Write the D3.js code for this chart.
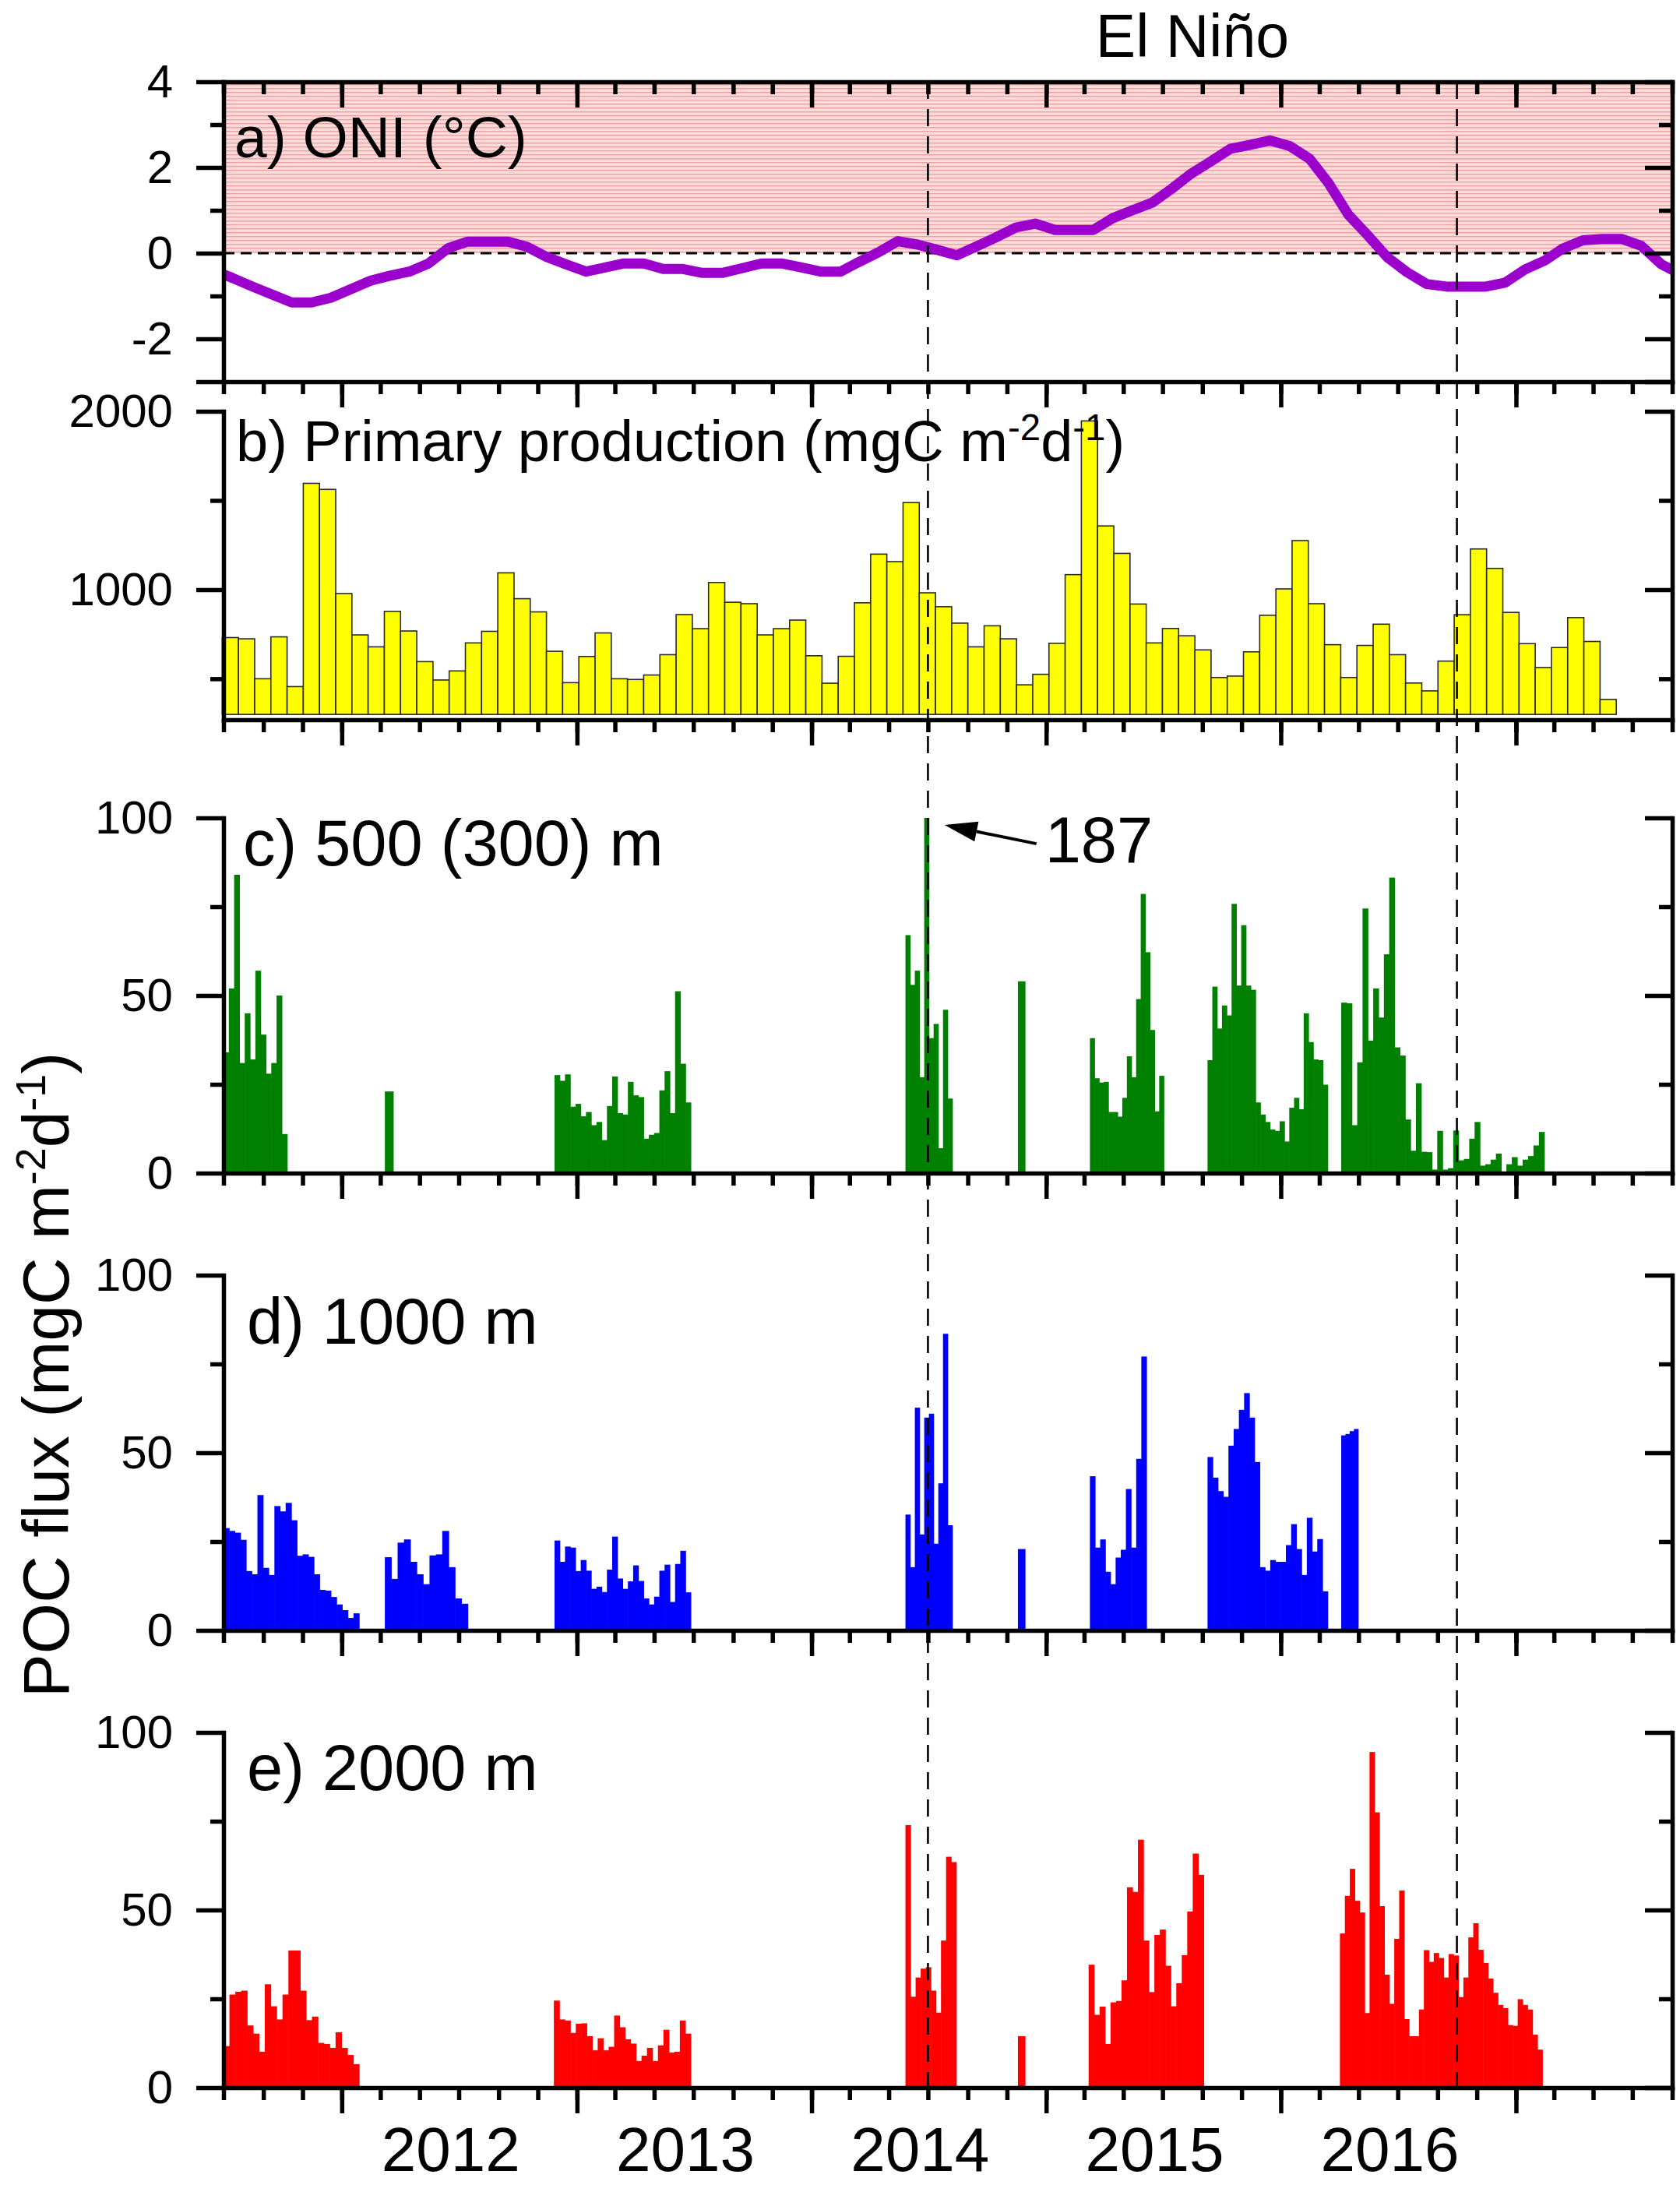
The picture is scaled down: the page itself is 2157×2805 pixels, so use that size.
<!DOCTYPE html>
<html>
<head>
<meta charset="utf-8">
<script src="https://cdn.jsdelivr.net/npm/d3@7"></script>
<style>
  body { margin: 0; background: #fff; }
  text { font-family: "Liberation Sans", Arial, sans-serif; fill: #000; }
</style>
</head>
<body>
<script>
// ---- data ----
// ONI, monthly values plotted at mid-month, Jun 2011 .. Sep 2017
const oniFirstMonth = "2011-06-15";
const oniValues = [
  -0.40, -0.58, -0.78, -0.97, -1.15, -1.15, -1.04,
  -0.84, -0.64, -0.53, -0.43, -0.24, 0.12, 0.27, 0.27, 0.27, 0.15, -0.09, -0.26,
  -0.43, -0.33, -0.24, -0.24, -0.37, -0.37, -0.46, -0.46, -0.35, -0.24, -0.24, -0.33,
  -0.43, -0.43, -0.21, 0.02, 0.28, 0.20, 0.08, -0.05, 0.16, 0.37, 0.60, 0.69,
  0.54, 0.54, 0.54, 0.82, 1.00, 1.18, 1.50, 1.86, 2.15, 2.44, 2.53, 2.63,
  2.50, 2.20, 1.64, 0.90, 0.42, -0.10, -0.44, -0.72, -0.78, -0.78, -0.78, -0.69,
  -0.38, -0.17, 0.11, 0.30, 0.33, 0.33, 0.17, -0.26, -0.50
];

// primary production, consecutive composites between these dates
const ppStart = "2011-06-29", ppEnd = "2017-06-06";
const ppValues = [
  731, 724, 500, 735, 456, 1596, 1562, 978, 746, 679,
  878, 768, 596, 493, 544, 701, 766, 1094, 949, 875,
  654, 478, 625, 757, 500, 496, 521, 635, 860, 781,
  1040, 929, 921, 746, 781, 829, 629, 475, 626, 926,
  1199, 1157, 1488, 982, 904, 812, 679, 797, 724, 466,
  525, 699, 1084, 1946, 1357, 1203, 919, 701, 782, 741,
  662, 507, 515, 651, 856, 1004, 1275, 921, 691, 507,
  687, 806, 635, 476, 432, 599, 859, 1228, 1119, 872,
  697, 563, 675, 843, 709, 384
];
const ppBase = 300;

// sediment trap deployments: cups evenly split between start and end
const flux500 = [
  {start: "2011-07-01", end: "2011-10-08", values: [34, 52, 84, 31, 45, 32, 57, 39, 28, 31, 50, 11]},
  {start: "2012-03-08", end: "2012-03-21", values: [23]},
  {start: "2012-11-27", end: "2013-06-27", values: [27.6, 26, 27.8, 18.7, 19.5, 16, 17.2, 13.5, 14.4, 9.3, 18.9, 27.2, 16.9, 16.5, 25.7, 21.9, 21.4, 9.7, 10.8, 11.3, 23.3, 28.7, 16.9, 51.2, 30.8, 19.9]},
  {start: "2014-05-27", end: "2014-08-08", values: [67, 53, 57, 27, 187, 38, 42, 7, 46, 21]},
  {start: "2014-11-18", end: "2014-11-29", values: [54]},
  {start: "2015-03-10", end: "2015-07-03", values: [38, 26.7, 25.5, 25.7, 17.2, 17.2, 15.9, 21.2, 32.9, 27, 49, 78.6, 62.2, 40.3, 17.4, 27.4]},
  {start: "2015-09-09", end: "2016-03-14", values: [31.8, 52.5, 40.7, 47.2, 44.4, 75.8, 52.8, 69.8, 52.8, 51.6, 19.9, 16.5, 14.4, 12.3, 11.9, 14.6, 8.9, 18.4, 21.2, 18, 45, 36.9, 32, 31.8, 24.9]},
  {start: "2016-04-04", end: "2016-12-09", values: [48, 47.8, 13.5, 31.2, 74.5, 37.3, 52, 43.8, 61.6, 83.2, 35.4, 33.1, 15.1, 6.3, 25.3, 6, 5.9, 1, 11.9, 1, 1.4, 12, 3.6, 4, 9.7, 14.4, 2.1, 2.5, 3.8, 5.5]},
  {start: "2016-12-17", end: "2017-02-14", values: [2.5, 4.5, 2.1, 3.8, 4.8, 7.8, 11.6]}
];
const flux1000 = [
  {start: "2011-07-01", end: "2012-01-28", values: [28.8, 28, 27.5, 25.5, 16.7, 15.8, 38.1, 17.6, 15.6, 35, 33.5, 35.9, 31, 21, 21.4, 20.7, 15.8, 11.4, 11.2, 9.4, 7.3, 5.7, 3.5, 4.8]},
  {start: "2012-03-08", end: "2012-07-15", values: [20.6, 14.5, 24.7, 25.6, 19.3, 15.8, 13, 21.1, 21.4, 28, 17.8, 9, 7.5]},
  {start: "2012-11-27", end: "2013-06-27", values: [25.3, 19.3, 23.6, 23.3, 16.7, 19.8, 16.8, 11.7, 12.3, 10.8, 17.1, 26.4, 14.6, 11.7, 13.8, 18.3, 13.9, 9, 7.3, 9.5, 16.8, 18.5, 8, 18.7, 22.4, 10.7]},
  {start: "2014-05-27", end: "2014-08-08", values: [32.6, 17.8, 62.7, 27, 59.9, 61, 24.4, 41.4, 83.5, 29.6]},
  {start: "2014-11-18", end: "2014-11-29", values: [22.9]},
  {start: "2015-03-10", end: "2015-06-06", values: [43.4, 23.3, 25.6, 16.5, 13, 20.5, 22.7, 39.8, 23.3, 48.3, 77.1]},
  {start: "2015-09-09", end: "2016-03-14", values: [48.8, 43, 39.2, 37.6, 52, 56.7, 62.1, 66.8, 59.9, 47.4, 17.8, 16.8, 19.8, 19.3, 19.3, 24, 29.9, 22.9, 15.6, 31.7, 22.2, 25.7, 11]},
  {start: "2016-04-04", end: "2016-05-07", values: [54.9, 55.3, 56.1, 56.7, 0.4]}
];
const flux2000 = [
  {start: "2011-07-01", end: "2012-01-28", values: [11.7, 26.2, 27, 27.3, 17.5, 15.2, 10.1, 29.1, 22.9, 19.2, 26.2, 38.6, 38.6, 27.3, 19, 20, 12.6, 12.3, 11.2, 15.6, 11.2, 9.2, 6.6]},
  {start: "2012-11-26", end: "2013-06-27", values: [24.5, 19.2, 18.9, 15.4, 18, 18.1, 14.5, 10.5, 13.9, 10.5, 11.5, 20.3, 17, 13.6, 12.4, 7.5, 9, 11.2, 7.5, 11.9, 16.3, 9.9, 10.1, 18.9, 15.2]},
  {start: "2014-05-27", end: "2014-08-14", values: [73.9, 25.6, 31, 33.5, 33.9, 27.3, 21.1, 41.4, 65, 63.5]},
  {start: "2014-11-18", end: "2014-11-29", values: [14.5]},
  {start: "2015-03-08", end: "2015-09-03", values: [34.6, 20.5, 22.8, 12.3, 24, 24.4, 30.2, 56.4, 55.1, 69.8, 41.4, 26.9, 43, 44.5, 34.3, 22.9, 29.4, 37.3, 49.6, 65.9, 59.9]},
  {start: "2016-04-02", end: "2017-02-11", values: [43.4, 54, 61.6, 52.6, 49.3, 21, 94.5, 77.5, 51.1, 31.8, 23.6, 41.9, 55.5, 19.3, 14.5, 14.5, 22, 38.7, 35.4, 37.9, 36.5, 31, 37.6, 37.2, 25.5, 31, 42.3, 46.3, 38.8, 35.1, 30.7, 26.7, 23.3, 22.4, 17.6, 17.4, 24.9, 23.3, 22, 14.9, 10.7]}
];

const eventDates = ["2014-07-01", "2016-10-01"];
const yearLabels = [2012, 2013, 2014, 2015, 2016];
const offScaleNote = "187";

// ---- layout ----
const W = 2157, H = 2805;
const left = 287, right = 2147;
const LW = 5.5;
const FONT = '"Liberation Sans", Arial, sans-serif';
const parse = d3.timeParse("%Y-%m-%d");

const x = d3.scaleTime()
    .domain([new Date(2011, 6, 1), new Date(2017, 8, 1)])
    .range([left, right]);

const yA = d3.scaleLinear().domain([-3, 4]).range([490, 105]);
const yB = d3.scaleLinear().domain([270, 2000]).range([924, 528]);
const yC = d3.scaleLinear().domain([0, 100]).range([1506, 1050]);
const yD = d3.scaleLinear().domain([0, 100]).range([2093, 1637]);
const yE = d3.scaleLinear().domain([0, 100]).range([2680, 2224]);

const svg = d3.select("body").append("svg")
    .attr("width", W)
    .attr("height", H);

svg.append("rect").attr("width", W).attr("height", H).attr("fill", "#fff");

const defs = svg.append("defs");
const pat = defs.append("pattern")
    .attr("id", "hatch")
    .attr("patternUnits", "userSpaceOnUse")
    .attr("width", 10).attr("height", 5);
pat.append("rect").attr("width", 10).attr("height", 5).attr("fill", "#fcdada");
pat.append("rect").attr("y", 3).attr("width", 10).attr("height", 1.4).attr("fill", "#eaa2a2");

defs.append("clipPath").attr("id", "clipA")
  .append("rect")
    .attr("x", left).attr("y", yA(4))
    .attr("width", right - left).attr("height", yA(-3) - yA(4));

// ---- panel a: ONI ----
svg.append("rect")
    .attr("x", left).attr("y", yA(4))
    .attr("width", right - left).attr("height", yA(0) - yA(4))
    .attr("fill", "url(#hatch)");

svg.append("line")
    .attr("x1", left).attr("x2", right)
    .attr("y1", yA(0)).attr("y2", yA(0))
    .attr("stroke", "#000").attr("stroke-width", 3)
    .attr("stroke-dasharray", "14,8");

const oniStart = parse(oniFirstMonth);
const oni = oniValues.map((v, i) => ({ date: d3.timeMonth.offset(oniStart, i), v }));

svg.append("path")
    .datum(oni)
    .attr("clip-path", "url(#clipA)")
    .attr("fill", "none")
    .attr("stroke", "#9b00cc")
    .attr("stroke-width", 13)
    .attr("stroke-linejoin", "round")
    .attr("d", d3.line().x(d => x(d.date)).y(d => yA(d.v)));

// ---- panel b: primary production ----
const p0 = parse(ppStart), p1 = parse(ppEnd);
const ppStep = (p1 - p0) / ppValues.length;
const pp = ppValues.map((v, i) => ({
  a: new Date(+p0 + i * ppStep),
  b: new Date(+p0 + (i + 1) * ppStep),
  v
}));

svg.append("g")
  .selectAll("rect")
  .data(pp)
  .join("rect")
    .attr("x", d => x(d.a))
    .attr("width", d => x(d.b) - x(d.a))
    .attr("y", d => yB(d.v))
    .attr("height", d => yB(ppBase) - yB(d.v))
    .attr("fill", "#ffff00")
    .attr("stroke", "#2a2a2a")
    .attr("stroke-width", 1.6);

// ---- panels c, d, e: POC flux ----
function cups(groups) {
  return groups.flatMap(g => {
    const t0 = parse(g.start), t1 = parse(g.end);
    const step = (t1 - t0) / g.values.length;
    return g.values.map((v, i) => ({
      a: new Date(+t0 + i * step),
      b: new Date(+t0 + (i + 1) * step),
      v
    }));
  });
}

function drawFlux(groups, y, color) {
  const top = y.domain()[1];
  svg.append("g")
    .selectAll("rect")
    .data(cups(groups))
    .join("rect")
      .attr("x", d => x(d.a))
      .attr("width", d => x(d.b) - x(d.a) + 0.6)
      .attr("y", d => y(Math.min(d.v, top)))
      .attr("height", d => y(0) - y(Math.min(d.v, top)))
      .attr("fill", color);
}

drawFlux(flux500, yC, "#008000");
drawFlux(flux1000, yD, "#0000ff");
drawFlux(flux2000, yE, "#ff0000");

// ---- axes ----
function styleAxis(g) {
  g.attr("font-family", FONT);
  g.select(".domain").attr("stroke-width", LW).attr("stroke-linecap", "square");
  g.selectAll(".tick line").attr("stroke-width", LW);
  g.selectAll(".tick text").attr("font-size", 60).attr("fill", "#000");
}

function yAxes(y, major, minor, labels) {
  const fmt = d => labels.includes(d) ? String(d) : "";
  // left: ticks outward
  svg.append("g")
      .attr("transform", `translate(${left},0)`)
      .call(d3.axisLeft(y).tickValues(minor).tickSize(17).tickFormat("").tickSizeOuter(0))
      .call(g => g.select(".domain").remove())
      .call(styleAxis);
  svg.append("g")
      .attr("transform", `translate(${left},0)`)
      .call(d3.axisLeft(y).tickValues(major).tickSize(35).tickPadding(30).tickFormat(fmt).tickSizeOuter(0))
      .call(styleAxis);
  // right: same direction, so ticks point inward
  svg.append("g")
      .attr("transform", `translate(${right},0)`)
      .call(d3.axisLeft(y).tickValues(minor).tickSize(17).tickFormat("").tickSizeOuter(0))
      .call(g => g.select(".domain").remove())
      .call(styleAxis);
  svg.append("g")
      .attr("transform", `translate(${right},0)`)
      .call(d3.axisLeft(y).tickValues(major).tickSize(35).tickFormat("").tickSizeOuter(0))
      .call(styleAxis);
}

function xAxis(yPos) {
  svg.append("g")
      .attr("transform", `translate(0,${yPos})`)
      .call(d3.axisBottom(x).ticks(d3.timeMonth.every(2)).tickSize(16).tickFormat("").tickSizeOuter(0))
      .call(g => g.select(".domain").remove())
      .call(styleAxis);
  svg.append("g")
      .attr("transform", `translate(0,${yPos})`)
      .call(d3.axisBottom(x).ticks(d3.timeYear.every(1)).tickSize(33).tickFormat("").tickSizeOuter(0))
      .call(styleAxis);
}

yAxes(yA, [4, 2, 0, -2, -3], [3, 1, -1], [4, 2, 0, -2]);
yAxes(yB, [2000, 1000], [1500, 500], [2000, 1000]);
[yC, yD, yE].forEach(y => yAxes(y, [100, 50, 0], [75, 25], [100, 50, 0]));

xAxis(yA(4));   // top of panel a, ticks pointing down into the plot
xAxis(yA(-3));
xAxis(yB(270));
xAxis(yC(0));
xAxis(yD(0));
xAxis(yE(0));

// year labels under the last panel
svg.append("g")
    .attr("transform", `translate(0,${yE(0)})`)
    .call(d3.axisBottom(x)
      .tickValues(yearLabels.map(yr => new Date(yr, 5, 18)))
      .tickSize(0).tickPadding(50)
      .tickFormat(d3.timeFormat("%Y")))
    .call(g => g.select(".domain").remove())
    .call(g => g.attr("font-family", FONT))
    .call(g => g.selectAll("text").attr("font-size", 80).attr("fill", "#000"));

// ---- El Niño markers ----
const ev = eventDates.map(parse);
svg.append("g")
  .selectAll("line")
  .data(ev)
  .join("line")
    .attr("x1", d => x(d)).attr("x2", d => x(d))
    .attr("y1", yA(4)).attr("y2", yE(0) + 12)
    .attr("stroke", "#000")
    .attr("stroke-width", 2.6)
    .attr("stroke-dasharray", "22,13");

svg.append("text")
    .attr("x", (x(ev[0]) + x(ev[1])) / 2)
    .attr("y", 73)
    .attr("text-anchor", "middle")
    .attr("font-size", 77)
    .text("El Niño");

// ---- panel labels ----
function rich(xPos, yPos, size, parts, rotate) {
  const t = svg.append("text")
      .attr("font-size", size)
      .attr("transform", rotate ? `translate(${xPos},${yPos}) rotate(-90)` : null)
      .attr("x", rotate ? 0 : xPos)
      .attr("y", rotate ? 0 : yPos)
      .attr("text-anchor", rotate ? "middle" : "start");
  let raised = false;
  parts.forEach(p => {
    const sup = typeof p !== "string";
    const s = t.append("tspan").text(sup ? p.sup : p);
    if (sup) {
      s.attr("font-size", size * 0.64).attr("dy", -size * 0.36);
      raised = true;
    } else if (raised) {
      s.attr("dy", size * 0.36);
      raised = false;
    }
  });
  return t;
}

rich(301, 202, 75, ["a) ONI (°C)"]);
rich(303, 592, 74, ["b) Primary production (mgC m", {sup: "-2"}, "d", {sup: "-1"}, ")"]);
rich(312, 1111, 83, ["c) 500 (300) m"]);
rich(317, 1725, 83, ["d) 1000 m"]);
rich(317, 2298, 83, ["e) 2000 m"]);
rich(88, 1765, 84, ["POC flux (mgC m", {sup: "-2"}, "d", {sup: "-1"}, ")"], true);

// off-scale annotation for the 500 m peak
const peak = cups(flux500).find(d => d.v > yC.domain()[1]);
const head = [x(peak.b) + 20, yC(98)];
const tail = [head[0] + 118, head[1] + 24];
const ang = Math.atan2(tail[1] - head[1], tail[0] - head[0]);
const aL = 42, aW = 13;
const base = [head[0] + aL * Math.cos(ang), head[1] + aL * Math.sin(ang)];
svg.append("line")
    .attr("x1", base[0]).attr("y1", base[1])
    .attr("x2", tail[0]).attr("y2", tail[1])
    .attr("stroke", "#000").attr("stroke-width", 4);
svg.append("polygon")
    .attr("points", [
      head,
      [base[0] - aW * Math.sin(ang), base[1] + aW * Math.cos(ang)],
      [base[0] + aW * Math.sin(ang), base[1] - aW * Math.cos(ang)]
    ].map(p => p.join(",")).join(" "))
    .attr("fill", "#000");
svg.append("text")
    .attr("x", tail[0] + 11)
    .attr("y", yC(100) + 57)
    .attr("font-size", 83)
    .text(offScaleNote);
</script>
</body>
</html>
